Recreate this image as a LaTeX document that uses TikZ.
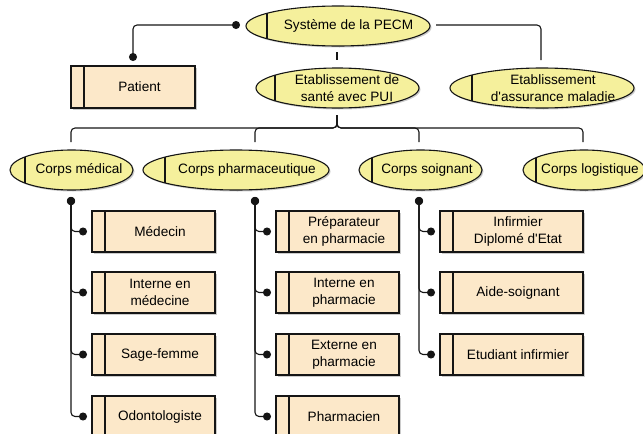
\documentclass[tikz,border=0pt]{standalone}
\usepackage{fontspec}
\setmainfont{Liberation Sans}
\usetikzlibrary{shapes.geometric,shadows,arrows.meta}
\definecolor{boxfill}{HTML}{FCE8C9}
\definecolor{ellfill}{HTML}{F5F09C}
\definecolor{linec}{HTML}{151515}
\tikzset{
  shp/.style={draw=linec, line width=1.1pt, inner sep=0pt, outer sep=0pt,
    drop shadow={shadow xshift=1.5pt, shadow yshift=-1.5pt, fill=black!40, opacity=0.5},
    path picture={\draw[line width=1.1pt, linec] ([xshift=#1]path picture bounding box.south west) -- ([xshift=#1]path picture bounding box.north west);}},
  ent/.style={shp=13pt, rectangle, fill=boxfill, minimum width=123pt, minimum height=41pt},
  ell/.style={shp=#1, ellipse, fill=ellfill, minimum height=40pt},
  txt/.style={font=\fontsize{13.6pt}{16.5pt}\selectfont, align=center, inner sep=0pt, text=black},
  conn/.style={draw=linec, line width=1.1pt, rounded corners=4pt},
  dots/.style={{Circle[length=8pt]}-{Circle[length=8pt]}},
}
\begin{document}
\begin{tikzpicture}[x=1pt,y=-1pt]
\useasboundingbox (0,0) rectangle (643,434);
% top level
\node[ell=21pt, minimum width=184pt] (sys) at (338,26) {};
\node[txt] (tsys) at (348.5,26) {Système de la PECM};
\node[ent, minimum width=124pt, minimum height=42pt] (pat) at (133,87) {};
\node[txt] (tpat) at (139.5,87) {Patient};
\node[ell=19pt, minimum width=163pt] (etab) at (337.5,88) {};
\node[txt] (tetab) at (347,88) {Etablissement de\\santé avec PUI};
\node[ell=22pt, minimum width=184pt] (assur) at (542,88) {};
\node[txt] (tassur) at (553,88) {Etablissement\\d\textquotesingle assurance maladie};
% corps
\node[ell=15pt, minimum width=123pt] (med) at (71.5,170) {};
\node[txt] (tmed) at (79,170) {Corps médical};
\node[ell=22pt, minimum width=186pt] (pha) at (236,170) {};
\node[txt] (tpha) at (247,170) {Corps pharmaceutique};
\node[ell=13pt, minimum width=123pt] (soi) at (420.5,170) {};
\node[txt] (tsoi) at (427,170) {Corps soignant};
\node[ell=13pt, minimum width=122pt] (log) at (584,170) {};
\node[txt] (tlog) at (590,170) {Corps logistique};
% medical children
\node[ent] (m1) at (153.5,231.5) {};
\node[txt] (tm1) at (160,231.5) {Médecin};
\node[ent] (m2) at (153.5,292.5) {};
\node[txt] (tm2) at (160,292.5) {Interne en\\médecine};
\node[ent] (m3) at (153.5,354.5) {};
\node[txt] (tm3) at (160,354.5) {Sage-femme};
\node[ent] (m4) at (153.5,416.5) {};
\node[txt] (tm4) at (160,416.5) {Odontologiste};
% pharma children
\node[ent] (p1) at (337.5,231.5) {};
\node[txt] (tp1) at (344,231.5) {Préparateur\\en pharmacie};
\node[ent] (p2) at (337.5,292.5) {};
\node[txt] (tp2) at (344,292.5) {Interne en\\pharmacie};
\node[ent] (p3) at (337.5,354.5) {};
\node[txt] (tp3) at (344,354.5) {Externe en\\pharmacie};
\node[ent] (p4) at (337.5,416.5) {};
\node[txt] (tp4) at (344,416.5) {Pharmacien};
% soignant children
\node[ent, minimum width=143pt] (s1) at (511.5,231.5) {};
\node[txt] (ts1) at (518,231.5) {Infirmier\\Diplomé d\textquotesingle Etat};
\node[ent, minimum width=143pt] (s2) at (511.5,292.5) {};
\node[txt] (ts2) at (518,292.5) {Aide-soignant};
\node[ent, minimum width=143pt] (s3) at (511.5,354.5) {};
\node[txt] (ts3) at (518,354.5) {Etudiant infirmier};
% connectors top
\draw[conn, dots] ([xshift=-6pt,yshift=1pt]sys.west) -| ([yshift=5pt]pat.north);
\draw[conn] ([xshift=6pt,yshift=1pt]sys.east) -| ([xshift=-1pt,yshift=8pt]assur.north);
\draw[conn] ([xshift=-1pt,yshift=-6pt]sys.south) -- ([xshift=-0.5pt,yshift=8pt]etab.north);
% bus
\draw[conn] ([xshift=-0.5pt,yshift=-7pt]etab.south) -- ++(0,-13pt) -| ([xshift=-0.5pt,yshift=8pt]med.north);
\draw[conn] ([xshift=-0.5pt,yshift=-7pt]etab.south) -- ++(0,-13pt) -| ([xshift=19pt,yshift=8pt]pha.north);
\draw[conn] ([xshift=-0.5pt,yshift=-7pt]etab.south) -- ++(0,-13pt) -| ([xshift=-1.5pt,yshift=8pt]soi.north);
\draw[conn] ([xshift=-0.5pt,yshift=-7pt]etab.south) -- ++(0,-13pt) -| ([xshift=-1pt,yshift=8pt]log.north);
% children connectors
\foreach \c in {m4,m3,m2,m1} {\draw[conn, dots] ([xshift=-0.5pt,yshift=-7pt]med.south) |- ([xshift=-5pt]\c.west);}
\foreach \c in {p4,p3,p2,p1} {\draw[conn, dots] ([xshift=19pt,yshift=-7pt]pha.south) |- ([xshift=-5pt]\c.west);}
\foreach \c in {s3,s2,s1} {\draw[conn, dots] ([xshift=-1.5pt,yshift=-7pt]soi.south) |- ([xshift=-5pt]\c.west);}
\end{tikzpicture}
\end{document}
